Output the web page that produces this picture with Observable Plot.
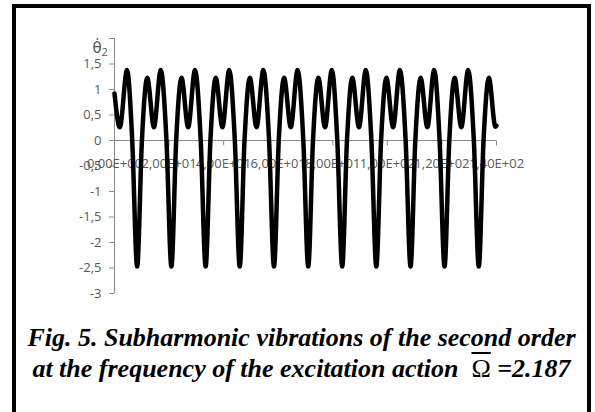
<!DOCTYPE html>
<html><head><meta charset="utf-8">
<script src="https://cdn.jsdelivr.net/npm/d3@7"></script>
<script src="https://cdn.jsdelivr.net/npm/@observablehq/plot@0.6"></script>
<style>
html,body{margin:0;padding:0;background:#fff;width:595px;height:412px;overflow:hidden;}
#frame{position:absolute;left:12px;top:4px;width:571px;height:430px;border:4px solid #000;border-bottom:none;}
#chart{position:absolute;left:0;top:0;}
#caption{position:absolute;left:16px;width:571px;top:322px;text-align:center;font-family:"Liberation Serif","Times New Roman",serif;font-weight:bold;font-style:italic;font-size:26px;line-height:31px;color:#000;white-space:nowrap;}
.om{font-style:normal;font-weight:normal;text-decoration:overline;}
</style></head><body>
<div id="frame"></div>
<div id="chart"></div>
<div id="caption">Fig. 5. Subharmonic vibrations of the second order<br>at the frequency of the excitation action&nbsp; <span class="om">Ω</span> =2.187</div>
<script>
const time = [
  0, 1.95, 4.6, 6.5, 8.3,
  10.05, 12.0, 14.45, 16.95, 19.05, 20.85,
  22.6, 24.55, 27.0, 29.5, 31.6, 33.4,
  35.15, 37.1, 39.55, 42.05, 44.1, 45.9,
  47.65, 49.6, 52.05, 54.55, 56.65, 58.45,
  60.2, 62.15, 64.6, 67.1, 69.2, 71.0,
  72.75, 74.7, 77.15, 79.65, 81.65, 83.45,
  85.2, 87.15, 89.6, 92.1, 94.15, 95.95,
  97.7, 99.65, 102.1, 104.6, 106.7, 108.5,
  110.25, 112.2, 114.65, 117.15, 119.15, 120.95,
  122.7, 124.65, 127.1, 129.6, 131.7, 133.5,
  135.25, 137.2, 139.6, 140
];
const theta = [
  0.92, 0.26, 1.38, 0, -2.47,
  0, 1.23, 0.26, 1.38, 0, -2.47,
  0, 1.23, 0.26, 1.38, 0, -2.47,
  0, 1.23, 0.26, 1.38, 0, -2.47,
  0, 1.23, 0.26, 1.38, 0, -2.47,
  0, 1.23, 0.26, 1.38, 0, -2.47,
  0, 1.23, 0.26, 1.38, 0, -2.47,
  0, 1.23, 0.26, 1.38, 0, -2.47,
  0, 1.23, 0.26, 1.38, 0, -2.47,
  0, 1.23, 0.26, 1.38, 0, -2.47,
  0, 1.23, 0.26, 1.38, 0, -2.47,
  0, 1.23, 0.27, 0.29
];
const xTickValues = [0, 20, 40, 60, 80, 100, 120, 140];
const xTickLabels = ["0,00E+00", "2,00E+01", "4,00E+01", "6,00E+01", "8,00E+01", "1,00E+02", "1,20E+02", "1,40E+02"];
const yTickValues = [-3, -2.5, -2, -1.5, -1, -0.5, 0, 0.5, 1, 1.5, 2];
const yTickLabels = ["-3", "-2,5", "-2", "-1,5", "-1", "-0,5", "0", "0,5", "1", "1,5", ""];
const yLabelMain = "θ̇";
const yLabelSub = "2";

const series = time.map((t, i) => ({t, v: theta[i]}));
const xTicks = xTickValues.map((value, i) => ({value, label: xTickLabels[i]}));
const gray = "#8a8a8a", ink = "#595959";
// downward tick glyph used as a dot symbol on the x axis (y = 0)
const tickDown = {draw(context) { context.moveTo(0, 0); context.lineTo(0, 5); }};

const plot = Plot.plot({
  width: 595, height: 308,
  marginLeft: 114, marginRight: 99, marginTop: 38, marginBottom: 15,
  style: {background: "transparent", fontFamily: "'Open Sans', sans-serif", fontSize: "13px", color: ink},
  x: {domain: [0, 140], axis: null},
  y: {domain: [-3, 2]},
  marks: [
    Plot.ruleY([0], {stroke: gray}),
    Plot.dot(xTicks, {x: "value", y: () => 0, symbol: tickDown, stroke: gray, fill: "none", strokeWidth: 1}),
    Plot.ruleX([0], {stroke: gray}),
    Plot.axisY(yTickValues, {anchor: "left", tickSize: 5, tickPadding: 8,
      tickFormat: d => yTickLabels[yTickValues.indexOf(d)], stroke: gray, fill: ink, label: null, fontSize: 13}),
    Plot.text(xTicks, {x: "value", y: () => 0, text: "label", dy: 23, fill: ink, fontSize: 13}),
    Plot.text([yLabelMain], {frameAnchor: "top-left", dx: -22, dy: 4, fill: ink, fontSize: 15, fontFamily: "'DejaVu Sans', sans-serif"}),
    Plot.text([yLabelSub], {frameAnchor: "top-left", dx: -13, dy: 10, fill: ink, fontSize: 11}),
    Plot.line(series, {x: "t", y: "v", stroke: "#000", strokeWidth: 4.5, curve: "monotone-x"})
  ]
});
document.getElementById("chart").appendChild(plot);
</script>
</body></html>
